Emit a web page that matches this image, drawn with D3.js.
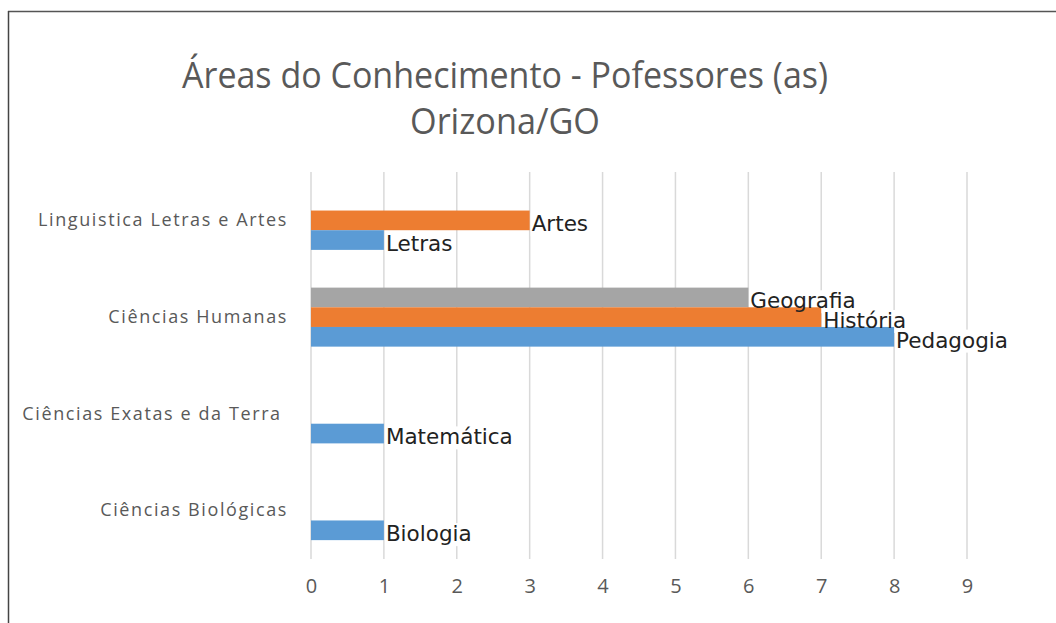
<!DOCTYPE html>
<html>
<head>
<meta charset="utf-8">
<script src="https://cdn.jsdelivr.net/npm/d3@7"></script>
<style>
  html, body { margin: 0; padding: 0; background: #fff; }
  svg { display: block; }
</style>
</head>
<body>
<div id="chart"></div>
<script>
// dados
var categorias = ["Linguistica Letras e Artes", "Ciências Humanas", "Ciências Exatas e da Terra ", "Ciências Biológicas"];
var serie1 = [1, 8, 1, 1];
var rotulos1 = ["Letras", "Pedagogia", "Matemática", "Biologia"];
var serie2 = [3, 7, null, null];
var rotulos2 = ["Artes", "História", null, null];
var serie3 = [null, 6, null, null];
var rotulos3 = [null, "Geografia", null, null];
var ticks = [0, 1, 2, 3, 4, 5, 6, 7, 8, 9];
var titulo = ["Áreas do Conhecimento - Pofessores (as)", "Orizona/GO"];

var width = 1056,
    height = 623,
    margin = { top: 172, right: 89, bottom: 64, left: 311 };

var series = [
    { key: "s3", valores: serie3, rotulos: rotulos3, cor: "#a5a5a5" },
    { key: "s2", valores: serie2, rotulos: rotulos2, cor: "#ed7d31" },
    { key: "s1", valores: serie1, rotulos: rotulos1, cor: "#5b9bd5" }
];

var svg = d3.select("#chart")
    .append("svg")
    .attr("width", width)
    .attr("height", height);

// moldura (so topo e esquerda aparecem)
svg.append("line")
    .attr("x1", 8).attr("y1", 11.5).attr("x2", width).attr("y2", 11.5)
    .style("stroke", "#555").style("stroke-width", "1.5px");
svg.append("line")
    .attr("x1", 8.5).attr("y1", 11).attr("x2", 8.5).attr("y2", height)
    .style("stroke", "#444").style("stroke-width", "1.5px");

// titulo
svg.append("text")
    .attr("x", 505).attr("y", 88)
    .attr("text-anchor", "middle")
    .attr("textLength", 646)
    .attr("lengthAdjust", "spacingAndGlyphs")
    .style("font-family", "'Open Sans', sans-serif")
    .style("font-size", "37px")
    .style("fill", "#595959")
    .text(titulo[0]);
svg.append("text")
    .attr("x", 505).attr("y", 134)
    .attr("text-anchor", "middle")
    .attr("textLength", 190)
    .attr("lengthAdjust", "spacingAndGlyphs")
    .style("font-family", "'Open Sans', sans-serif")
    .style("font-size", "37px")
    .style("fill", "#595959")
    .text(titulo[1]);

var x = d3.scaleLinear()
    .domain([0, 9])
    .range([margin.left, width - margin.right]);

var y = d3.scaleBand()
    .domain(categorias)
    .range([margin.top, height - margin.bottom])
    .paddingInner(0.39)
    .paddingOuter(0.195);

var ySub = d3.scaleBand()
    .domain(series.map(function (s) { return s.key; }))
    .range([0, y.bandwidth()]);

// grade vertical
svg.append("g")
    .selectAll("line")
    .data(ticks)
    .enter()
    .append("line")
    .attr("x1", function (d) { return x(d); })
    .attr("x2", function (d) { return x(d); })
    .attr("y1", margin.top)
    .attr("y2", height - margin.bottom)
    .style("stroke", "#d9d9d9")
    .style("stroke-width", "1.5px");

// eixo x
var eixoX = d3.axisBottom(x)
    .tickValues(ticks)
    .tickSize(0)
    .tickPadding(0)
    .tickFormat(d3.format("d"));

var gx = svg.append("g")
    .attr("transform", "translate(0," + 579 + ")")
    .call(eixoX);
gx.select(".domain").remove();
gx.selectAll("text")
    .style("font-family", "'Open Sans', sans-serif")
    .style("font-size", "20px")
    .style("fill", "#595959");

// eixo y (categorias)
var eixoY = d3.axisLeft(y)
    .tickSize(0)
    .tickPadding(23);

var gy = svg.append("g")
    .attr("transform", "translate(" + margin.left + ",0)")
    .call(eixoY);
gy.select(".domain").remove();
gy.selectAll("text")
    .attr("dy", "0.32em")
    .style("white-space", "pre")
    .style("letter-spacing", "1.6px")
    .style("font-family", "'Open Sans', sans-serif")
    .style("font-size", "18px")
    .style("fill", "#595959");

// pontos de dados
var pontos = [];
series.forEach(function (s) {
    categorias.forEach(function (c, i) {
        if (s.valores[i] == null) return;
        pontos.push({ cat: c, key: s.key, valor: s.valores[i], rotulo: s.rotulos[i], cor: s.cor });
    });
});

var fonteRotulo = 21.5;

// fundo branco dos rotulos (antes das barras, esconde a grade)
var fundos = svg.append("g");
var barras = svg.append("g");
var rotulos = svg.append("g");

rotulos.selectAll("text")
    .data(pontos)
    .enter()
    .append("text")
    .attr("x", function (d) { return x(d.valor) + 2; })
    .attr("y", function (d) { return y(d.cat) + ySub(d.key) + ySub.bandwidth() + 1; })
    .style("font-family", "'DejaVu Sans', sans-serif")
    .style("font-size", fonteRotulo + "px")
    .style("fill", "#222")
    .text(function (d) { return d.rotulo; })
    .each(function (d) {
        var b = this.getBBox();
        fundos.append("rect")
            .attr("x", b.x - 1)
            .attr("y", b.y + 2)
            .attr("width", b.width + 4)
            .attr("height", b.height - 2)
            .style("fill", "#fff");
    });

barras.selectAll("rect")
    .data(pontos)
    .enter()
    .append("rect")
    .attr("x", x(0))
    .attr("y", function (d) { return y(d.cat) + ySub(d.key); })
    .attr("width", function (d) { return x(d.valor) - x(0); })
    .attr("height", ySub.bandwidth())
    .style("fill", function (d) { return d.cor; });
</script>
</body>
</html>
